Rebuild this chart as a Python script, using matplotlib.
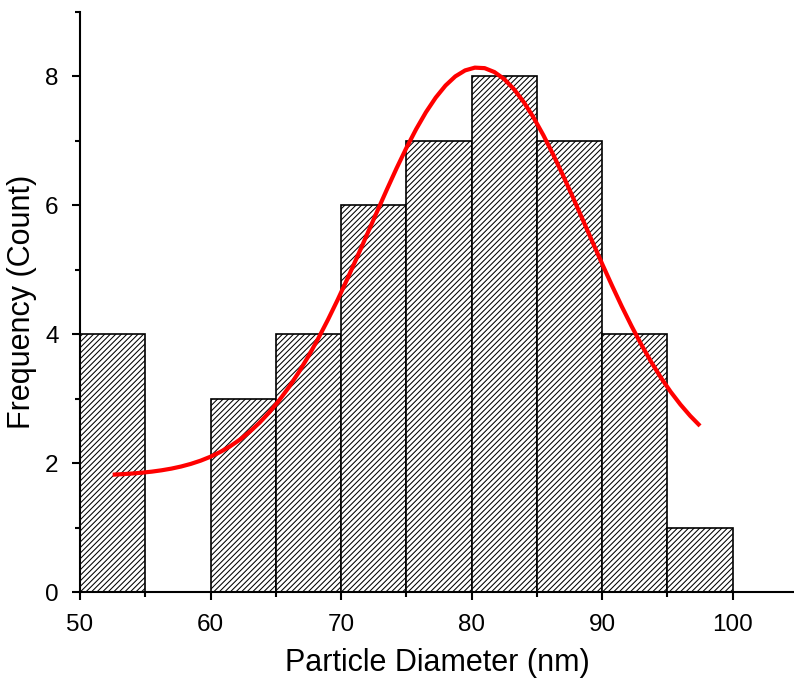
import matplotlib
matplotlib.use("Agg")
import matplotlib.pyplot as plt

plt.rcParams['font.family'] = ['Liberation Sans', 'DejaVu Sans']
plt.rcParams['hatch.linewidth'] = 0.75

# Histogram data
bin_left = [50, 55, 60, 65, 70, 75, 80, 85, 90, 95]
counts = [4, 0, 3, 4, 6, 7, 8, 7, 4, 1]
bin_width = 5

# Fit curve points
fit_x = [52.5, 53.25, 54.0, 54.75, 55.5, 56.25, 57.0, 57.75, 58.5, 59.25,
         60.0, 60.75, 61.5, 62.25, 63.0, 63.75, 64.5, 65.25, 66.0, 66.75,
         67.5, 68.25, 69.0, 69.75, 70.5, 71.25, 72.0, 72.75, 73.5, 74.25,
         75.0, 75.75, 76.5, 77.25, 78.0, 78.75, 79.5, 80.25, 81.0, 81.75,
         82.5, 83.25, 84.0, 84.75, 85.5, 86.25, 87.0, 87.75, 88.5, 89.25,
         90.0, 90.75, 91.5, 92.25, 93.0, 93.75, 94.5, 95.25, 96.0, 96.75,
         97.5]
fit_y = [1.821, 1.829, 1.839, 1.852, 1.868, 1.889, 1.915, 1.948, 1.989, 2.039,
         2.100, 2.174, 2.262, 2.365, 2.487, 2.627, 2.789, 2.972, 3.178, 3.407,
         3.660, 3.934, 4.228, 4.540, 4.868, 5.207, 5.553, 5.900, 6.242, 6.575,
         6.890, 7.182, 7.445, 7.672, 7.859, 8.001, 8.094, 8.137, 8.129, 8.068,
         7.959, 7.801, 7.601, 7.361, 7.088, 6.788, 6.466, 6.129, 5.784, 5.437,
         5.093, 4.758, 4.434, 4.128, 3.840, 3.573, 3.328, 3.107, 2.909, 2.733,
         2.578]

x_major = [50, 60, 70, 80, 90, 100]
y_major = [0, 2, 4, 6, 8]

fig = plt.figure(figsize=(7.94, 6.83), dpi=100)
ax = fig.add_axes([0.1008, 0.1332, 0.8992, 0.8492])

ax.bar(bin_left, counts, width=bin_width, align='edge', color='white',
       edgecolor='black', linewidth=1.2, hatch='//////', zorder=2)
ax.plot(fit_x, fit_y, color='#ff0000', linewidth=3.0, zorder=3,
        solid_capstyle='butt', solid_joinstyle='round')

ax.set_xlim(50, 104.7)
ax.set_ylim(0, 9)
ax.set_xticks(x_major)
ax.set_xticks([55, 65, 75, 85, 95], minor=True)
ax.set_yticks(y_major)
ax.set_yticks([1, 3, 5, 7, 9], minor=True)

for side in ['top', 'right']:
    ax.spines[side].set_visible(False)
for side in ['left', 'bottom']:
    ax.spines[side].set_linewidth(1.5)
    ax.spines[side].set_zorder(4)

ax.tick_params(which='major', direction='out', length=6, width=1.5,
               labelsize=17.5, pad=9.5)
ax.tick_params(which='minor', direction='out', length=3.5, width=1.5)

ax.set_xlabel('Particle Diameter (nm)', fontsize=22, labelpad=9)
ax.set_ylabel('Frequency (Count)', fontsize=22, labelpad=6)

fig.savefig('out.png', dpi=100)
